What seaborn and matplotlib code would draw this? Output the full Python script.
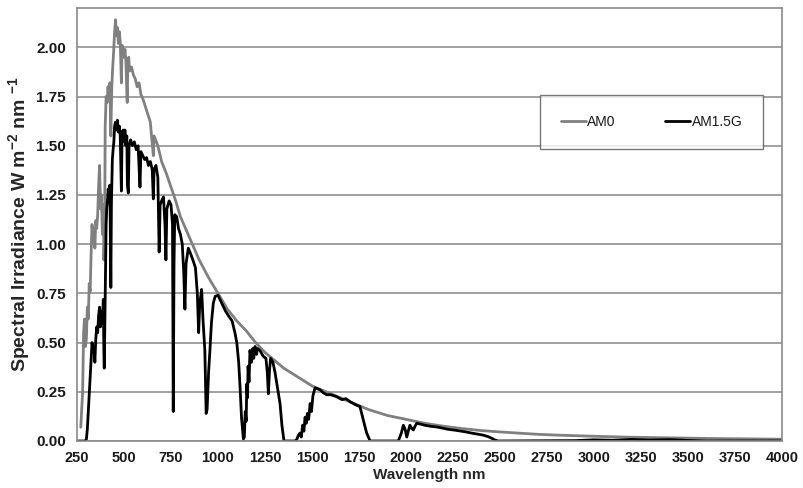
import numpy as np
import pandas as pd
import matplotlib
matplotlib.use("Agg")
import matplotlib.pyplot as plt
import seaborn as sns

# ---- data (wavelength nm, irradiance W m-2 nm-1) ----
am0_nm = [270, 280, 285, 290, 295, 300, 305, 310, 315, 320, 325, 330, 335, 340, 345,
          350, 355, 360, 365, 370, 375, 380, 385, 390, 393, 397, 400, 405, 410, 415,
          420, 425, 430, 435, 440, 445, 450, 455, 460, 465, 470, 475, 480, 486, 490,
          495, 500, 505, 510, 517, 520, 525, 530, 540, 550, 560, 570, 580, 590, 600,
          620, 640, 656, 660, 680, 700, 725, 750, 775, 800, 850, 900, 950, 1000, 1050,
          1100, 1150, 1200, 1250, 1300, 1350, 1400, 1450, 1500, 1550, 1600, 1700, 1800,
          1900, 2000, 2100, 2200, 2300, 2400, 2500, 2600, 2700, 2800, 3000, 3200, 3400,
          3600, 3800, 4000]
am0_val = [0.07, 0.25, 0.55, 0.62, 0.48, 0.52, 0.68, 0.62, 0.80, 0.76, 0.95, 1.10, 1.02, 1.08, 0.98,
           1.12, 1.08, 1.15, 1.30, 1.40, 1.18, 1.25, 1.05, 1.20, 0.92, 1.05, 1.60, 1.75, 1.72, 1.80,
           1.74, 1.82, 1.55, 1.80, 1.90, 1.98, 2.08, 2.14, 2.06, 2.10, 2.02, 2.08, 2.03, 1.82, 2.01,
           1.97, 1.95, 1.99, 1.93, 1.72, 1.90, 1.95, 1.88, 1.90, 1.86, 1.84, 1.80, 1.82, 1.76, 1.74,
           1.68, 1.62, 1.45, 1.55, 1.50, 1.42, 1.36, 1.29, 1.22, 1.14, 1.03, 0.92, 0.83, 0.75, 0.67,
           0.61, 0.56, 0.50, 0.45, 0.41, 0.37, 0.34, 0.31, 0.28, 0.26, 0.24, 0.20, 0.16,
           0.13, 0.11, 0.09, 0.075, 0.063, 0.053, 0.046, 0.040, 0.034, 0.030, 0.024, 0.019, 0.016,
           0.013, 0.011, 0.009]

am15_nm = [250, 280, 295, 300, 305, 310, 315, 320, 325, 330, 335, 340, 345, 350, 355,
           360, 365, 370, 375, 380, 385, 390, 393, 395, 398, 402, 405, 408, 412, 416,
           420, 425, 430, 433, 438, 442, 446, 450, 455, 460, 465, 470, 475, 480, 486,
           490, 495, 500, 505, 510, 515, 518, 523, 527, 535, 545, 555, 565, 575, 585,
           590, 600, 610, 620, 630, 640, 650, 656, 660, 670, 680, 687, 692, 700, 710,
           718, 723, 728, 740, 750, 758, 762, 766, 770, 780, 790, 800, 810, 818, 824,
           830, 842, 855, 870, 880, 890, 897, 903, 913, 920, 930, 937, 942, 950, 957,
           965, 975, 985, 1000, 1020, 1040, 1060, 1075, 1090, 1100, 1110, 1117, 1125, 1135, 1140,
           1145, 1150, 1153, 1157, 1160, 1165, 1170, 1178, 1185, 1190, 1197, 1205, 1210, 1223, 1241,
           1255, 1262, 1268, 1274, 1280, 1292, 1303, 1315, 1330, 1340, 1351, 1410, 1420, 1428, 1436,
           1443, 1450, 1457, 1463, 1470, 1475, 1482, 1490, 1497, 1505, 1516, 1530, 1543, 1560, 1578,
           1600, 1631, 1660, 1680, 1702, 1730, 1755, 1764, 1780, 1791, 1809, 1959, 1975, 1986, 1995,
           2004, 2012, 2021, 2030, 2039, 2048, 2057, 2080, 2100, 2130, 2172, 2220, 2260, 2314, 2350,
           2380, 2410, 2438, 2460, 2473, 2490, 2900, 3000, 3100, 3200, 3300, 3400, 3500, 3600, 4000]
am15_val = [0.0, 0.0, 0.0, 0.01, 0.06, 0.15, 0.25, 0.33, 0.42, 0.50, 0.46, 0.48, 0.40, 0.52, 0.58,
            0.55, 0.64, 0.68, 0.58, 0.66, 0.60, 0.72, 0.45, 0.37, 0.60, 0.95, 1.10, 1.18, 1.22, 1.28,
            1.24, 1.30, 0.78, 1.20, 1.43, 1.48, 1.52, 1.60, 1.62, 1.58, 1.63, 1.57, 1.60, 1.55, 1.27,
            1.56, 1.58, 1.52, 1.58, 1.50, 1.55, 1.30, 1.26, 1.50, 1.53, 1.50, 1.52, 1.48, 1.50, 1.29,
            1.47, 1.45, 1.43, 1.44, 1.40, 1.42, 1.38, 1.23, 1.38, 1.40, 1.34, 0.96, 1.20, 1.22, 1.24,
            1.10, 0.92, 1.18, 1.22, 1.20, 1.10, 0.15, 0.90, 1.15, 1.14, 1.08, 1.05, 1.00, 0.85, 0.67,
            0.90, 0.98, 0.95, 0.91, 0.88, 0.75, 0.55, 0.70, 0.77, 0.62, 0.46, 0.14, 0.16, 0.35, 0.46,
            0.60, 0.70, 0.735, 0.74, 0.70, 0.66, 0.63, 0.61, 0.55, 0.50, 0.40, 0.28, 0.12, 0.01, 0.02,
            0.15, 0.10, 0.29, 0.22, 0.38, 0.30, 0.46, 0.40, 0.47, 0.42, 0.48, 0.44, 0.47, 0.46, 0.43,
            0.42, 0.35, 0.24, 0.36, 0.42, 0.40, 0.35, 0.28, 0.19, 0.08, 0.0, 0.0, 0.01, 0.03, 0.04,
            0.02, 0.08, 0.05, 0.12, 0.09, 0.14, 0.11, 0.19, 0.15, 0.23, 0.27, 0.265, 0.26, 0.245, 0.235,
            0.235, 0.225, 0.21, 0.215, 0.20, 0.185, 0.175, 0.14, 0.08, 0.04, 0.0, 0.0, 0.04, 0.08, 0.06,
            0.02, 0.05, 0.08, 0.065, 0.056, 0.075, 0.09, 0.085, 0.08, 0.075, 0.07, 0.06, 0.055, 0.047, 0.04,
            0.035, 0.03, 0.022, 0.012, 0.005, 0.0, 0.002, 0.006, 0.004, 0.008, 0.005, 0.007, 0.003, 0.0, 0.0]

series_names = ["AM0", "AM1.5G"]
x_ticks = list(range(250, 4001, 250))
y_ticks = [0.0, 0.25, 0.5, 0.75, 1.0, 1.25, 1.5, 1.75, 2.0]

df = pd.concat([
    pd.DataFrame({"nm": am0_nm, "val": am0_val, "series": series_names[0]}),
    pd.DataFrame({"nm": am15_nm, "val": am15_val, "series": series_names[1]}),
], ignore_index=True)

sns.set_style("white")
plt.rcParams["font.family"] = ["Liberation Sans", "DejaVu Sans"]
plt.rcParams["mathtext.fontset"] = "custom"
plt.rcParams["mathtext.rm"] = "Liberation Sans:bold"
plt.rcParams["mathtext.it"] = "Liberation Sans:bold"
plt.rcParams["mathtext.bf"] = "Liberation Sans:bold"

fig = plt.figure(figsize=(8.04, 4.88), dpi=100)
ax = fig.add_axes([77 / 804, 1 - 441 / 488, 705 / 804, 433 / 488])

sns.lineplot(data=df, x="nm", y="val", hue="series", estimator=None, sort=False,
             palette={"AM0": "#808080", "AM1.5G": "#000000"}, linewidth=2.0, ax=ax)

ax.set_xlim(250, 4000)
ax.set_ylim(0, 2.2)
ax.set_xticks(x_ticks)
ax.set_xticklabels([str(t) for t in x_ticks], fontsize=10.5, fontweight="bold")
ax.set_yticks(y_ticks)
ax.set_yticklabels([f"{t:.2f}" for t in y_ticks], fontsize=11, fontweight="bold")
ax.yaxis.grid(True, color="#9a9a9a", linewidth=1.3)
ax.xaxis.grid(False)
ax.set_axisbelow(True)
for s in ax.spines.values():
    s.set_color("#8a8a8a")
    s.set_linewidth(1.2)
ax.tick_params(axis="both", which="major", direction="out", length=4, width=1,
               color="#8a8a8a", labelcolor="#1a1a1a")
ax.tick_params(axis="y", pad=4)
ax.tick_params(axis="x", pad=3)

ax.set_xlabel("Wavelength nm", fontsize=11, fontweight="bold", labelpad=2)
ax.set_ylabel("Spectral Irradiance W m$^{-2}$ nm $^{-1}$", fontsize=14, fontweight="bold", labelpad=3)

leg = ax.legend(loc="center", bbox_to_anchor=(0.815, 0.736), ncol=2, frameon=True,
                fancybox=False, borderpad=1.45, handlelength=1.8, handletextpad=0.1,
                columnspacing=3.6, fontsize=10)
leg.get_frame().set_edgecolor("#555555")
leg.get_frame().set_linewidth(1.0)
for t in leg.get_texts():
    t.set_color("#1a1a1a")

fig.savefig("out.png", dpi=100)
